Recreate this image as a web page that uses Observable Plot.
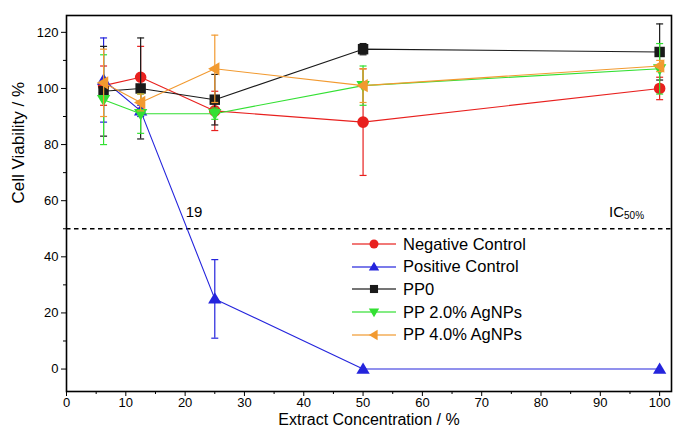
<!DOCTYPE html>
<html><head><meta charset="utf-8">
<script src="https://cdn.jsdelivr.net/npm/d3@7"></script>
<script src="https://cdn.jsdelivr.net/npm/@observablehq/plot@0.6"></script>
<style>
body{margin:0;background:#fff;font-family:"Liberation Sans",Arial,sans-serif}
#wrap{position:relative;width:683px;height:429px}
#legend{position:absolute;left:352px;top:233px;font-family:"Liberation Sans",Arial,sans-serif}
.row{display:flex;align-items:center;height:22.6px;font-size:16.5px;color:#000}
.row svg{margin-right:7px}
</style></head><body><div id="wrap"></div>
<script>
// ---- data ----
const concentrations = [6.25, 12.5, 25, 50, 100];
const seriesNames = ["Negative Control", "Positive Control", "PP0", "PP 2.0% AgNPs", "PP 4.0% AgNPs"];
const seriesColors = ["#e8201e", "#2424dc", "#1a1a1a", "#33e033", "#f29a30"];
const negativeControl = [101, 104, 92, 88, 100];
const negativeErr     = [7, 11, 7, 19, 4];
const positiveControl = [103, 92, 25, 0, 0];
const positiveErr     = [15, 2, 14, 0, 0];
const pp0             = [99, 100, 96, 114, 113];
const pp0Err          = [16, 18, 9, 2, 10];
const pp2             = [96, 91, 91, 101, 107];
const pp2Err          = [16, 7, 2, 7, 9];
const pp4             = [102, 95, 107, 101, 108];
const pp4Err          = [12, 3, 12, 6, 2];
const yTicks = [0, 20, 40, 60, 80, 100, 120];
const xTicks = [0, 10, 20, 30, 40, 50, 60, 70, 80, 90, 100];
const ic50 = 50;
const ic50Label = {x: 20.1, y: 56, text: "19"};
const icLabel = {x: 94.0, y: 56, main: "IC", sub: "50%"};

const values = [negativeControl, positiveControl, pp0, pp2, pp4];
const errors = [negativeErr, positiveErr, pp0Err, pp2Err, pp4Err];

const rows = [];
seriesNames.forEach((s, i) => concentrations.forEach((c, j) =>
  rows.push({series: s, x: c, y: values[i][j], e: errors[i][j]})));
const errRows = rows.filter(d => d.e > 0);
const caps = errRows.flatMap(d => [{...d, y: d.y - d.e}, {...d, y: d.y + d.e}]);

// ---- symbols ----
const rad = size => Math.sqrt(size / Math.PI);
const triUp = {draw(c, size){ const r = rad(size)*1.15; c.moveTo(0, -r); c.lineTo(r, r*0.7); c.lineTo(-r, r*0.7); c.closePath(); }};
const triDown = {draw(c, size){ const r = rad(size)*1.15; c.moveTo(0, r); c.lineTo(r, -r*0.7); c.lineTo(-r, -r*0.7); c.closePath(); }};
const triLeft = {draw(c, size){ const r = rad(size)*1.15; c.moveTo(-r, 0); c.lineTo(r*0.7, -r); c.lineTo(r*0.7, r); c.closePath(); }};
const sq = {draw(c, size){ const r = rad(size)*0.9; c.rect(-r, -r, 2*r, 2*r); }};
const circ = {draw(c, size){ const r = rad(size); c.moveTo(r, 0); c.arc(0, 0, r, 0, 2*Math.PI); }};
const capSym = {draw(c){ c.moveTo(-3.5, 0); c.lineTo(3.5, 0); }};
const seriesSymbols = [circ, triUp, sq, triDown, triLeft];

const marks = [
  Plot.ruleY([ic50], {stroke: "#000", strokeWidth: 1.3, strokeDasharray: "4.5,3.5"}),
  Plot.axisY(yTicks, {tickSize: 5, tickPadding: 3, fontSize: 13, label: null}),
  Plot.axisY(d3.range(10, 121, 20), {tickSize: 3, text: null, label: null}),
  Plot.axisX(xTicks, {tickSize: 5, tickPadding: 1, fontSize: 13, label: null}),
  Plot.axisX(d3.range(5, 101, 10), {tickSize: 3, text: null, label: null}),
  Plot.text(["Cell Viability / %"], {frameAnchor: "left", dx: -48, rotate: -90, fontSize: 17}),
  Plot.text(["Extract Concentration / %"], {frameAnchor: "bottom", lineAnchor: "bottom", dy: 33, fontSize: 16}),
  Plot.text([ic50Label], {x: "x", y: "y", text: "text", textAnchor: "start", fontSize: 15}),
  Plot.text([icLabel], {x: "x", y: "y", text: "main", textAnchor: "end", fontSize: 15}),
  Plot.text([icLabel], {x: "x", y: "y", text: "sub", textAnchor: "start", dy: 4, fontSize: 10}),
];
seriesNames.forEach((s, i) => {
  const col = seriesColors[i];
  const sr = rows.filter(d => d.series === s);
  marks.push(
    Plot.ruleX(errRows.filter(d => d.series === s), {x: "x", y1: d => d.y - d.e, y2: d => d.y + d.e, stroke: col, strokeWidth: 1.2}),
    Plot.dot(caps.filter(d => d.series === s), {x: "x", y: "y", symbol: capSym, stroke: col, fill: "none", strokeWidth: 1.2}),
    Plot.line(sr, {x: "x", y: "y", stroke: col, strokeWidth: 1.1}),
    Plot.dot(sr, {x: "x", y: "y", symbol: seriesSymbols[i], r: 5.8, fill: col, stroke: "none"})
  );
});
marks.push(Plot.frame({stroke: "#000", strokeWidth: 1.6}));

const chart = Plot.plot({
  width: 683, height: 429,
  marginLeft: 66, marginRight: 12, marginTop: 15, marginBottom: 38,
  style: {fontFamily: '"Liberation Sans", Arial, sans-serif', background: "#fff", color: "#000", overflow: "visible"},
  x: {domain: [0, 102], label: null},
  y: {domain: [-8, 126], label: null},
  marks
});
const wrap = document.getElementById("wrap");
wrap.appendChild(chart);

// ---- legend ----
const legend = document.createElement("div");
legend.id = "legend";
seriesNames.forEach((s, i) => {
  const row = document.createElement("div");
  row.className = "row";
  const svg = d3.create("svg").attr("width", 44).attr("height", 14);
  svg.append("line").attr("x1", 0).attr("x2", 44).attr("y1", 7).attr("y2", 7).attr("stroke", seriesColors[i]).attr("stroke-width", 1.3).attr("opacity", 0.8);
  svg.append("path").attr("transform", "translate(22,7)").attr("d", d3.symbol(seriesSymbols[i], 4.5*4.5*Math.PI)()).attr("fill", seriesColors[i]);
  row.appendChild(svg.node());
  const t = document.createElement("span");
  t.textContent = s;
  row.appendChild(t);
  legend.appendChild(row);
});
wrap.appendChild(legend);
</script>
</body></html>
